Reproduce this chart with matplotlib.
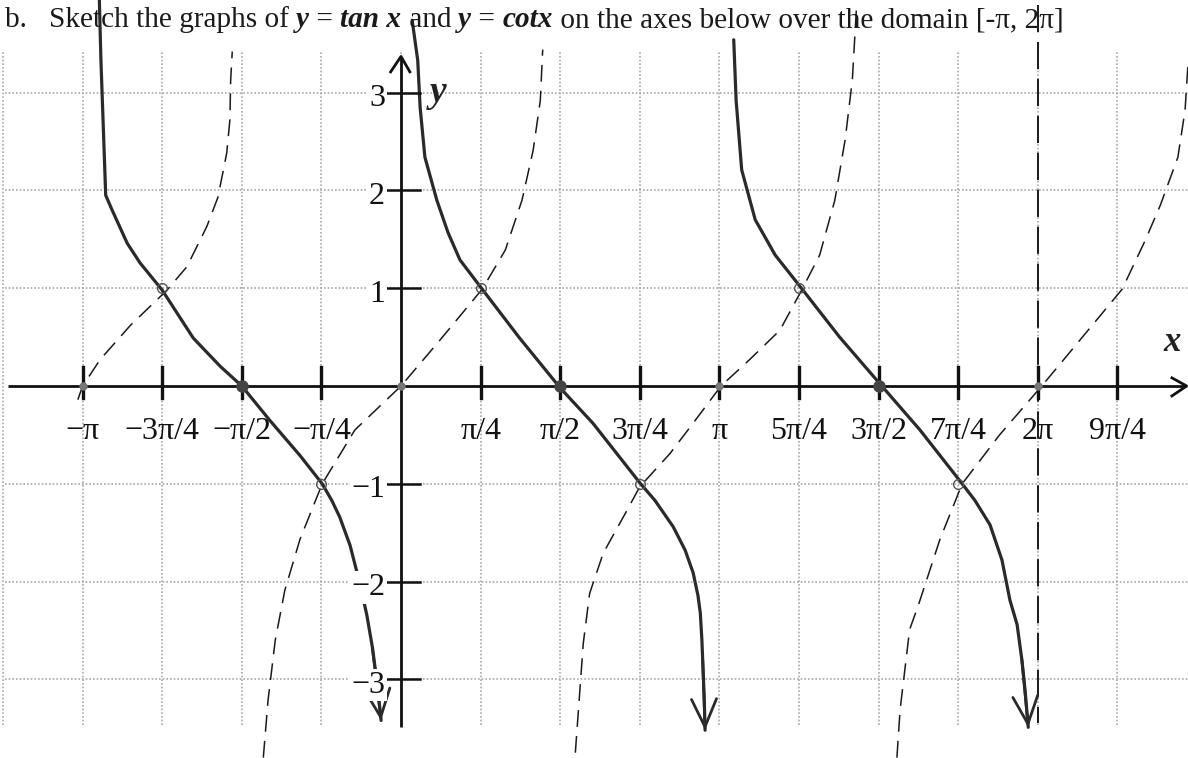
import numpy as np
import matplotlib
matplotlib.use("Agg")
import matplotlib.pyplot as plt
from matplotlib.transforms import IdentityTransform

# ---- data: x in multiples of pi/4, y plain values ----
# hand-sketched y = cot x (solid)
cot1_x = [-3.79, -3.77, -3.73, -3.71, -3.63, -3.44, -3.28, -3.00, -2.61, -2.27, -2.00,
          -1.65, -1.27, -0.99, -0.87, -0.77, -0.64, -0.52, -0.43, -0.36, -0.30, -0.25]
cot1_y = [3.95, 3.33, 2.41, 1.95, 1.80, 1.46, 1.26, 0.98, 0.49, 0.20, 0.00,
          -0.35, -0.71, -1.00, -1.17, -1.34, -1.63, -2.01, -2.34, -2.67, -3.04, -3.42]
cot2_x = [0.14, 0.21, 0.24, 0.30, 0.45, 0.59, 0.74, 1.02, 1.49, 2.00, 2.41, 3.00, 3.19,
          3.42, 3.57, 3.67, 3.73, 3.76, 3.78, 3.79, 3.81, 3.82]
cot2_y = [3.74, 3.33, 2.85, 2.34, 1.90, 1.57, 1.29, 0.99, 0.49, -0.02, -0.38, -0.99, -1.17,
          -1.44, -1.68, -1.91, -2.14, -2.32, -2.60, -2.80, -3.21, -3.52]
cot3_x = [4.18, 4.21, 4.28, 4.45, 4.70, 5.04, 5.51, 6.04, 6.52, 7.05, 7.21, 7.40, 7.55,
          7.65, 7.74, 7.80, 7.84, 7.88]
cot3_y = [3.54, 2.92, 2.21, 1.70, 1.34, 0.99, 0.50, 0.00, -0.45, -1.00, -1.17, -1.42, -1.78,
          -2.19, -2.44, -2.80, -3.11, -3.49]

# hand-sketched y = tan x (dashed)
tanA_x = [-4.06, -4.00, -3.78, -3.40, -2.94, -2.69, -2.44, -2.30, -2.19, -2.15, -2.14, -2.12]
tanA_y = [-0.14, 0.00, 0.27, 0.62, 0.98, 1.22, 1.63, 1.93, 2.38, 2.72, 3.13, 3.42]
tanB_x = [-1.73, -1.67, -1.58, -1.46, -1.27, -0.99, -0.58, 0.00, 0.49, 1.02, 1.31,
          1.52, 1.66, 1.75, 1.78]
tanB_y = [-3.80, -3.21, -2.60, -2.09, -1.57, -1.00, -0.45, 0.00, 0.47, 0.99, 1.39,
          1.90, 2.41, 2.92, 3.44]
tanC_x = [2.19, 2.29, 2.37, 2.54, 2.84, 3.00, 3.38, 3.67, 4.02, 4.38, 4.76, 5.04,
          5.26, 5.45, 5.58, 5.67, 5.72]
tanC_y = [-3.75, -2.63, -2.12, -1.71, -1.27, -1.03, -0.69, -0.38, 0.00, 0.27, 0.57,
          0.99, 1.34, 1.90, 2.52, 3.13, 3.84]
tanD_x = [6.23, 6.27, 6.33, 6.39, 6.50, 6.77, 7.05, 7.52, 8.05, 8.53, 9.06, 9.35,
          9.54, 9.76, 9.85, 9.89]
tanD_y = [-3.80, -3.31, -2.90, -2.49, -2.24, -1.57, -1.00, -0.50, 0.00, 0.47, 0.99,
          1.49, 1.85, 2.34, 2.82, 3.33]

# vertical asymptote sketched at x = 2*pi
asym_x = [8.0, 8.0]
asym_y = [3.90, -3.45]

# marked points
zero_cot_x = [-2, 2, 6]
zero_tan_x = [-4, 0, 4, 8]
cross_x = [-3, -1, 1, 3, 5, 7]
cross_y = [1, -1, 1, -1, 1, -1]

x_ticks = [-4, -3, -2, -1, 1, 2, 3, 4, 5, 6, 7, 8, 9]
x_labels = ["\u2212\u03c0", "\u22123\u03c0/4", "\u2212\u03c0/2", "\u2212\u03c0/4",
            "\u03c0/4", "\u03c0/2", "3\u03c0/4", "\u03c0", "5\u03c0/4", "3\u03c0/2",
            "7\u03c0/4", "2\u03c0", "9\u03c0/4"]
y_ticks = [3, 2, 1, -1, -2, -3]
y_labels = ["3", "2", "1", "\u22121", "\u22122", "\u22123"]

W, H = 1188, 758
fig = plt.figure(figsize=(W / 100, H / 100), dpi=100)
ax = fig.add_axes([0, 0, 1, 1])
ax.set_xlim(-5.038, 9.887)
ax.set_ylim(-3.804, 3.947)
ax.axis("off")

serif = ["Liberation Serif", "DejaVu Serif"]
grid_kw = dict(color="#a8a8a8", lw=1.2, ls=(0, (1, 1.2)), zorder=1)

# dotted graph-paper grid
for k in range(-5, 10):
    ax.plot([k, k], [-3.466, 3.415], **grid_kw)
for j in [-3, -2, -1, 1, 2, 3]:
    ax.plot([-4.975, 9.887], [j, j], **grid_kw)

# axes with open arrowheads
axis_kw = dict(color="#111111", lw=2.0, zorder=5, solid_capstyle="butt")
ax.plot([-4.94, 9.86], [0, 0], **axis_kw)
ax.plot([9.67, 9.87, 9.67], [0.09, 0.0, -0.11], **axis_kw)
ax.plot([0, 0], [-3.49, 3.36], **axis_kw)
ax.plot([-0.14, 0.0, 0.12], [3.20, 3.37, 3.20], **axis_kw)

for k in x_ticks:
    ax.plot([k, k], [0.19, -0.12], color="#111111", lw=2.4, zorder=5)
for j in y_ticks:
    ax.plot([-0.17, 0.24], [j, j], color="#111111", lw=1.8, zorder=5)

for k, lab in zip(x_ticks, x_labels):
    ax.text(k, -0.47, lab, ha="center", va="center", fontsize=23, family=serif,
            color="#111111", zorder=6)
for j, lab in zip(y_ticks, y_labels):
    ax.text(-0.2, j - 0.06, lab, ha="right", va="center", fontsize=23, family=serif,
            color="#111111", zorder=6,
            bbox=dict(boxstyle="square,pad=0.05", fc="white", ec="none"))

ax.text(0.47, 3.0, "y", ha="center", va="center", fontsize=27, family=serif,
        fontweight="bold", fontstyle="italic", color="#222222", zorder=6)
ax.text(9.69, 0.44, "x", ha="center", va="center", fontsize=25, family=serif,
        fontweight="bold", fontstyle="italic", color="#222222", zorder=6)

# sketched curves
solid_kw = dict(color="#2a2a2a", lw=2.3, solid_capstyle="round", solid_joinstyle="round", zorder=4)
dash_kw = dict(color="#1a1a1a", lw=1.1, ls=(0, (11, 6)), zorder=3)
for xs, ys in [(cot1_x, cot1_y), (cot2_x, cot2_y), (cot3_x, cot3_y)]:
    ax.plot(xs, ys, **solid_kw)
    ax.annotate("", xy=(xs[-1], ys[-1]), xytext=(xs[-3], ys[-3]),
                arrowprops=dict(arrowstyle="->,head_length=1.0,head_width=0.45",
                                lw=2.0, color="#2a2a2a", shrinkA=0, shrinkB=0,
                                mutation_scale=20), zorder=4)
for xs, ys in [(tanA_x, tanA_y), (tanB_x, tanB_y), (tanC_x, tanC_y), (tanD_x, tanD_y)]:
    ax.plot(xs, ys, **dash_kw)
ax.plot(asym_x, asym_y, color="#1a1a1a", lw=1.4, ls=(0, (14, 5)), zorder=3)

ax.plot(zero_cot_x, [0] * len(zero_cot_x), "o", ms=8, color="#444444", zorder=6)
ax.plot(zero_tan_x, [0] * len(zero_tan_x), "o", ms=5, color="#777777", zorder=6)
ax.plot(cross_x, cross_y, "o", ms=7, mfc="none", mec="#555555", mew=1.0, zorder=6)

# heading line, built from plain and bold-italic runs
runs = [("b.   Sketch the graphs of ", "normal"), ("y", "bi"), (" = ", "normal"),
        ("tan x", "bi"), (" and ", "normal"), ("y", "bi"), (" = ", "normal"),
        ("cotx", "bi"), (" on the axes below over the domain [-\u03c0, 2\u03c0]", "normal")]
renderer = fig.canvas.get_renderer()


def run_width(s, style, size):
    kw = dict(fontsize=size, family=serif)
    if style == "bi":
        kw.update(fontweight="bold", fontstyle="italic")
    t1 = fig.text(0, 0, "|" + s + "|", transform=IdentityTransform(), **kw)
    t2 = fig.text(0, 0, "||", transform=IdentityTransform(), **kw)
    w = t1.get_window_extent(renderer).width - t2.get_window_extent(renderer).width
    t1.remove()
    t2.remove()
    return w, kw


size0 = 20.0
total = sum(run_width(s, st, size0)[0] for s, st in runs)
size = size0 * (1057.0 / total)
x = 5.0
for s, st in runs:
    w, kw = run_width(s, st, size)
    fig.text(x, H - 27, s, transform=IdentityTransform(), va="baseline",
             color="#1a1a1a", **kw)
    x += w

fig.savefig("out.png", dpi=100, facecolor="white")
